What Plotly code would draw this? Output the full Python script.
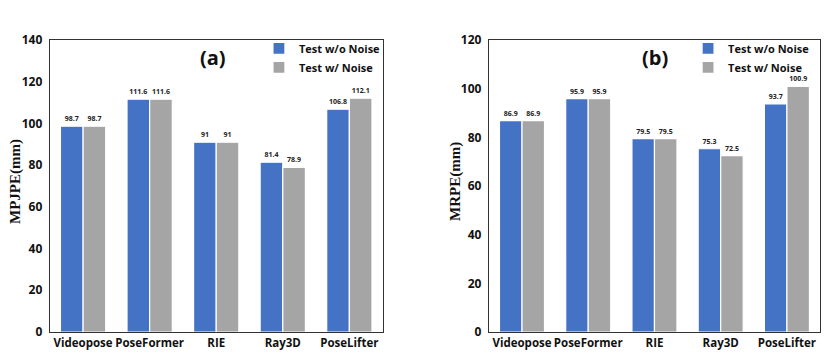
import plotly.graph_objects as go

methods = ["Videopose", "PoseFormer", "RIE", "Ray3D", "PoseLifter"]
mpjpe_clean = [98.7, 111.6, 91, 81.4, 106.8]
mpjpe_noise = [98.7, 111.6, 91, 78.9, 112.1]
mrpe_clean = [86.9, 95.9, 79.5, 75.3, 93.7]
mrpe_noise = [86.9, 95.9, 79.5, 72.5, 100.9]

BLUE = "#4472C4"
GRAY = "#A5A5A5"
FONT = "Open Sans"

fig = go.Figure()


def add_pair(clean, noise, xa, ya, legend):
    for name, vals, color in [("Test w/o Noise", clean, BLUE), ("Test w/ Noise", noise, GRAY)]:
        fig.add_trace(go.Bar(
            x=methods, y=vals, name=name, xaxis=xa, yaxis=ya, legend=legend,
            marker=dict(color=color, line=dict(color="white", width=1.2)),
            text=[f"{v:g}" for v in vals], textposition="outside",
            textfont=dict(size=7, family=FONT, color="#222222", weight="bold"),
            cliponaxis=False,
        ))


add_pair(mpjpe_clean, mpjpe_noise, "x", "y", "legend")
add_pair(mrpe_clean, mrpe_noise, "x2", "y2", "legend2")

axis_common = dict(
    showline=True, linecolor="#333333", linewidth=1.2, mirror=True,
    showgrid=False, zeroline=False, ticks="", automargin=False,
)
xfont = dict(size=11.5, family=FONT, color="#111111", weight="bold")
yfont = dict(size=12, family=FONT, color="#111111", weight="bold")
legfont = dict(size=11, family=FONT, color="#111111", weight="bold")

fig.update_layout(
    xaxis=dict(domain=[0.060, 0.461], anchor="y", tickfont=xfont, **axis_common),
    yaxis=dict(domain=[0.07, 0.888], anchor="x", range=[0, 140], dtick=20,
               ticklabelstandoff=4, tickfont=yfont, **axis_common),
    xaxis2=dict(domain=[0.589, 0.988], anchor="y2", tickfont=xfont, **axis_common),
    yaxis2=dict(domain=[0.07, 0.888], anchor="x2", range=[0, 120], dtick=20,
                ticklabelstandoff=4, tickfont=yfont, **axis_common),
    barmode="group",
    bargap=0.32,
    bargroupgap=0.0,
    width=830,
    height=357,
    margin=dict(l=0, r=0, t=0, b=0),
    plot_bgcolor="white",
    paper_bgcolor="white",
    legend=dict(x=0.465, y=0.905, xanchor="right", yanchor="top", font=legfont,
                bgcolor="rgba(0,0,0,0)", tracegroupgap=0, itemwidth=30),
    legend2=dict(x=0.982, y=0.905, xanchor="right", yanchor="top", font=legfont,
                 bgcolor="rgba(0,0,0,0)", tracegroupgap=0, itemwidth=30),
    annotations=[
        dict(text="(a)", x=213 / 830, y=1 - 58 / 357, xref="paper", yref="paper",
             xanchor="center", yanchor="middle", showarrow=False,
             font=dict(size=20, family=FONT, color="#111111", weight="bold")),
        dict(text="(b)", x=655 / 830, y=1 - 58 / 357, xref="paper", yref="paper",
             xanchor="center", yanchor="middle", showarrow=False,
             font=dict(size=20, family=FONT, color="#111111", weight="bold")),
        dict(text="MPJPE(mm)", x=15 / 830, y=1 - 182 / 357, xref="paper", yref="paper",
             xanchor="center", yanchor="middle", showarrow=False, textangle=-90,
             font=dict(size=15, family="Liberation Serif", color="#111111", weight="bold")),
        dict(text="MRPE(mm)", x=455 / 830, y=1 - 182 / 357, xref="paper", yref="paper",
             xanchor="center", yanchor="middle", showarrow=False, textangle=-90,
             font=dict(size=15, family="Liberation Serif", color="#111111", weight="bold")),
    ],
)

fig.write_html("out.html", config={"displayModeBar": False},
               post_script="document.body.style.margin='0px';")
